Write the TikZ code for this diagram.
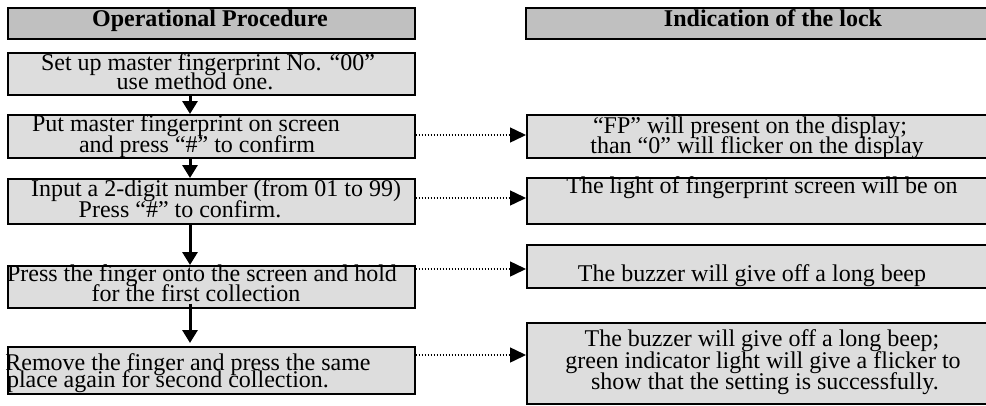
\documentclass[tikz,border=0pt]{standalone}
\usepackage{fontspec}
\setmainfont{Liberation Serif}
\usetikzlibrary{arrows.meta}
\definecolor{headgray}{RGB}{192,192,192}
\definecolor{boxgray}{RGB}{221,221,221}
\tikzset{
  headbox/.style={draw=black, line width=1.6pt, fill=headgray, rectangle, anchor=north west, inner sep=0pt},
  stepbox/.style={draw=black, line width=1.6pt, fill=boxgray, rectangle, anchor=north west, inner sep=0pt},
  txt/.style={anchor=base, inner sep=0pt, font=\fontsize{24}{24}\selectfont},
  headtxt/.style={anchor=base, inner sep=0pt, font=\fontsize{24}{24}\selectfont\bfseries},
  flow/.style={line width=3pt, -{Triangle[width=15pt,length=13pt]}},
  dotarrow/.style={line width=1.5pt, dash pattern=on 1.5pt off 1.5pt, -{Triangle[width=15pt,length=16pt]}}
}
\begin{document}
\begin{tikzpicture}[x=1pt,y=-1pt]
\path[use as bounding box] (0,0) rectangle (986,405);
\fill[white] (0,0) rectangle (986,405);
\clip (0,0) rectangle (986,405);
% headers
\node[headbox, minimum width=407pt, minimum height=31pt] (hL) at (7,7) {};
\node[headbox, minimum width=480pt, minimum height=31pt] (hR) at (525,7) {};
\node[headtxt] (hLt) at (210,26) {Operational Procedure};
\node[headtxt] (hRt) at (773,26) {Indication of the lock};
% left boxes
\node[stepbox, minimum width=407pt, minimum height=42pt] (b1) at (7,52) {};
\node[stepbox, minimum width=407pt, minimum height=43pt] (b2) at (7,114) {};
\node[stepbox, minimum width=407pt, minimum height=45pt] (b3) at (7,178) {};
\node[stepbox, minimum width=407pt, minimum height=42pt] (b4) at (7,265) {};
\node[stepbox, minimum width=407pt, minimum height=47pt] (b5) at (7,346) {};
% right boxes
\node[stepbox, minimum width=480pt, minimum height=43pt] (r1) at (526,114) {};
\node[stepbox, minimum width=480pt, minimum height=46pt] (r2) at (526,177) {};
\node[stepbox, minimum width=480pt, minimum height=43pt] (r3) at (526,244) {};
\node[stepbox, minimum width=480pt, minimum height=81pt] (r4) at (526,322) {};
% left texts
\node[txt] (t1a) at (208,70) {Set up master fingerprint No. “00”};
\node[txt] (t1b) at (195,89) {use method one.};
\node[txt] (t2a) at (186,131) {Put master fingerprint on screen};
\node[txt] (t2b) at (197,152) {and press “\#” to confirm};
\node[txt] (t3a) at (216,196) {Input a 2-digit number (from 01 to 99)};
\node[txt] (t3b) at (180,217) {Press “\#” to confirm.};
\node[txt] (t4a) at (202,281) {Press the finger onto the screen and hold};
\node[txt] (t4b) at (196,301) {for the first collection};
\node[txt] (t5a) at (188,370) {Remove the finger and press the same};
\node[txt] (t5b) at (168,387) {place again for second collection.};
% right texts
\node[txt] (s1a) at (750,133) {“FP” will present on the display;};
\node[txt] (s1b) at (757,153) {than “0” will flicker on the display};
\node[txt] (s2a) at (762,193) {The light of fingerprint screen will be on};
\node[txt] (s3a) at (752,281) {The buzzer will give off a long beep};
\node[txt] (s4a) at (762,346) {The buzzer will give off a long beep;};
\node[txt] (s4b) at (763,368) {green indicator light will give a flicker to};
\node[txt] (s4c) at (765,389) {show that the setting is successfully.};
% flow arrows
\coordinate (ax) at (190,0);
\draw[flow] (b1.south -| ax) -- (b2.north -| ax);
\draw[flow] (b2.south -| ax) -- (b3.north -| ax);
\draw[flow] (b3.south -| ax) -- (b4.north -| ax);
\draw[flow] ([yshift=5pt]b4.south -| ax) -- ([yshift=3pt]b5.north -| ax);
% dotted arrows
\coordinate (y2) at (0,135);
\coordinate (y3) at (0,198);
\coordinate (y4) at (0,269);
\coordinate (y5) at (0,355);
\draw[dotarrow] (b2.east |- y2) -- (r1.west |- y2);
\draw[dotarrow] (b3.east |- y3) -- (r2.west |- y3);
\draw[dotarrow] (b4.east |- y4) -- (r3.west |- y4);
\draw[dotarrow] (b5.east |- y5) -- (r4.west |- y5);
\end{tikzpicture}
\end{document}
